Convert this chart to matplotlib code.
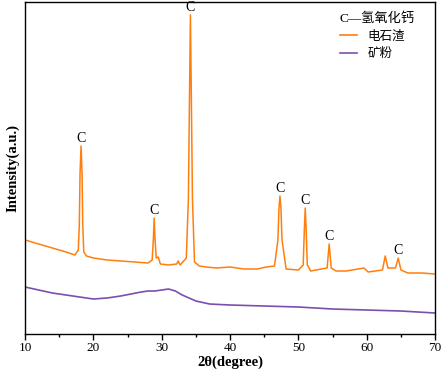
import matplotlib
matplotlib.use("Agg")
import matplotlib.pyplot as plt
from matplotlib.lines import Line2D

plt.rcParams['font.family'] = ['Liberation Serif', 'Noto Sans CJK SC', 'DejaVu Sans']

# 电石渣 (carbide slag) pattern
cs_x = [10, 12, 14, 16, 17.3, 17.8, 17.95, 18.05, 18.2, 18.35, 18.45, 18.6, 19, 20, 22, 24, 26, 28,
        28.6, 28.78, 28.9, 29.02, 29.2, 29.5, 29.8, 31, 32.2, 32.4, 32.7, 33.6, 33.9, 34.07, 34.2,
        34.33, 34.5, 34.8, 35.5, 36.5, 38, 40, 42, 44, 45.3, 46.5, 47.0, 47.15, 47.3, 47.45, 47.6,
        48.2, 50, 50.7, 50.87, 51.0, 51.13, 51.3, 51.8, 54.2, 54.5, 54.8, 55.5, 57, 59.6, 60.2,
        62.3, 62.7, 63.1, 64.2, 64.6, 65.0, 66, 68, 70]
cs_y = [94, 90, 86, 82, 79, 84, 110, 160, 188, 160, 110, 82, 78, 76, 74, 73, 72, 71,
        74, 95, 116, 95, 76, 77, 70, 69, 70, 73, 69, 76, 134, 240, 319,
        240, 134, 72, 68, 67, 66, 67, 65, 65, 67, 68, 94, 125, 138, 125, 94,
        65, 64, 69, 105, 126, 105, 69, 63, 66, 90, 66, 63, 63, 66, 62,
        64, 78, 66, 66, 76, 64, 61, 61, 60]

# 矿粉 (slag powder) pattern
sp_x = [10, 12, 14, 16, 18, 20, 22, 24, 25.5, 27, 28, 29, 30, 31, 32, 33, 34, 35, 37, 40,
        45, 50, 55, 60, 65, 70]
sp_y = [47, 44, 41, 39, 37, 35, 36, 38, 40, 42, 43, 43, 44, 45, 43, 39, 36, 33, 30, 29,
        28, 27, 25, 24, 23, 21]

peak_x = [18.2, 28.9, 34.2, 47.3, 51.0, 54.5, 64.6]
peak_y = [188, 116, 319, 138, 126, 90, 76]

orange = '#FF7F0E'
purple = '#7B4FAE'

fig = plt.figure(figsize=(4.44, 3.77), dpi=100)
ax = fig.add_axes([0.0563, 0.114, 0.9237, 0.881])

ax.plot(cs_x, cs_y, color=orange, lw=1.1)
ax.plot(sp_x, sp_y, color=purple, lw=1.2)

for px, py in zip(peak_x, peak_y):
    ax.text(px, py + 1, 'C', ha='center', va='bottom', fontsize=10)

ax.set_xlim(10, 70)
ax.set_ylim(0, 332)
ax.set_xticks(range(10, 71, 10))
ax.set_xticks(range(15, 70, 10), minor=True)
ax.set_yticks([])
ax.tick_params(axis='x', which='major', direction='out', length=4, width=1, labelsize=9.5, pad=2)
ax.tick_params(axis='x', which='minor', direction='out', length=2.5, width=1)
for s in ax.spines.values():
    s.set_linewidth(1.0)

ax.set_xlabel('2θ(degree)', fontsize=10.5, fontweight='bold', labelpad=1)
ax.set_ylabel('Intensity(a.u.)', fontsize=10.5, fontweight='bold', labelpad=4)

handles = [Line2D([], [], color=orange, lw=1.2),
           Line2D([], [], color=purple, lw=1.2)]
labels = ['电石渣', '矿粉']
leg = ax.legend(handles, labels, loc='upper left', frameon=False, fontsize=9,
                title='C—氢氧化钙', title_fontsize=9.5,
                handlelength=1.4, handletextpad=0.8, borderpad=0, borderaxespad=0,
                labelspacing=0.45, bbox_to_anchor=(0.768, 0.968))
leg._legend_box.align = 'left'

fig.savefig('out.png', dpi=100)
